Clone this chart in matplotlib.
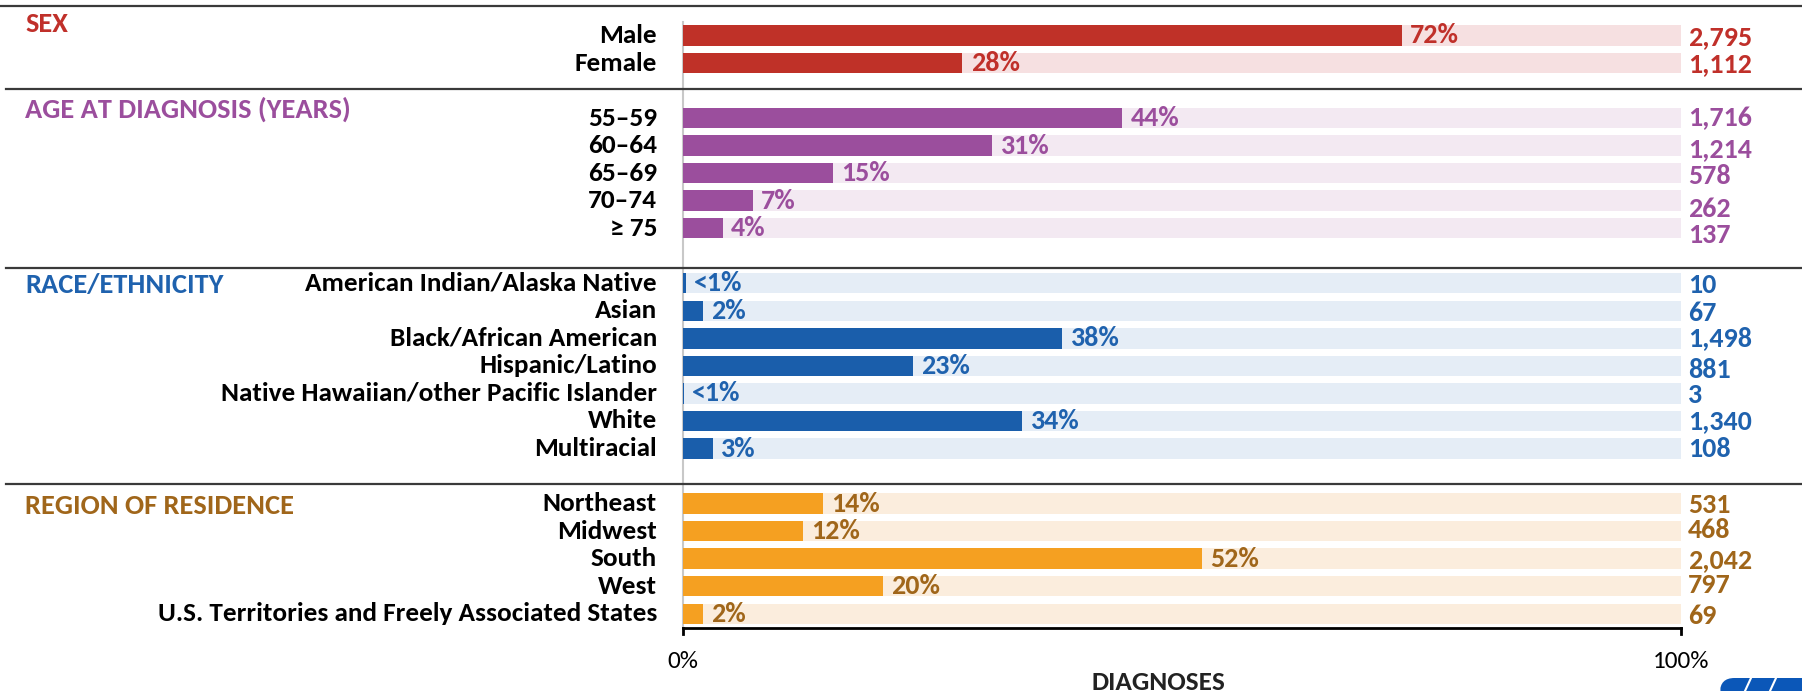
import matplotlib
matplotlib.use("Agg")
import matplotlib.pyplot as plt
from matplotlib import font_manager
from matplotlib.transforms import blended_transform_factory
from matplotlib.patches import FancyBboxPatch
from matplotlib.lines import Line2D

# ---------------- data ----------------
group_titles = ["SEX", "AGE AT DIAGNOSIS (YEARS)", "RACE/ETHNICITY", "REGION OF RESIDENCE"]

sex_labels = ["Male", "Female"]
sex_pct = [72, 28]
sex_pct_text = ["72%", "28%"]
sex_counts = ["2,795", "1,112"]

age_labels = ["55\u201359", "60\u201364", "65\u201369", "70\u201374", "\u2265 75"]
age_pct = [44, 31, 15, 7, 4]
age_pct_text = ["44%", "31%", "15%", "7%", "4%"]
age_counts = ["1,716", "1,214", "578", "262", "137"]

race_labels = ["American Indian/Alaska Native", "Asian", "Black/African American",
               "Hispanic/Latino", "Native Hawaiian/other Pacific Islander", "White", "Multiracial"]
race_pct = [0.3, 2, 38, 23, 0.1, 34, 3]
race_pct_text = ["<1%", "2%", "38%", "23%", "<1%", "34%", "3%"]
race_counts = ["10", "67", "1,498", "881", "3", "1,340", "108"]

region_labels = ["Northeast", "Midwest", "South", "West",
                 "U.S. Territories and Freely Associated States"]
region_pct = [14, 12, 52, 20, 2]
region_pct_text = ["14%", "12%", "52%", "20%", "2%"]
region_counts = ["531", "468", "2,042", "797", "69"]

x_tick_labels = ["0%", "100%"]
x_title = "DIAGNOSES"

# ---------------- style ----------------
bar_colors = ["#BF3128", "#9B4E9D", "#1A5EAB", "#F5A021"]
bg_colors = ["#F6E0E1", "#F3E9F2", "#E5EDF6", "#FBEDDD"]
text_colors = ["#C0302A", "#9B4E9D", "#1F62AE", "#A0661A"]

available = set(f.name for f in font_manager.fontManager.ttflist)
prefs = ["Carlito", "Calibri", "Liberation Sans Narrow", "Lato", "DejaVu Sans"]
chosen = next(p for p in prefs if p in available)
plt.rcParams["font.family"] = [chosen, "DejaVu Sans"]
FS = {"Carlito": 17.5, "Calibri": 17.5, "Liberation Sans Narrow": 16, "Lato": 15.5}.get(chosen, 14)
LAB_FS = FS * 1.12
NUM_FS = FS * 1.15
TITLE_FS = FS * 1.17
TICK_FS = FS * 1.04
AXT_FS = FS * 1.12

W, H = 1802, 691
fig = plt.figure(figsize=(W / 100, H / 100), dpi=100)
ax_left, ax_right = 683 / W, 1681 / W
ax_top_px, ax_bot_px = 6, 627.5
ax = fig.add_axes([ax_left, 1 - ax_bot_px / H, ax_right - ax_left, (ax_bot_px - ax_top_px) / H])
ax.set_xlim(0, 100)
ax.set_ylim(21.5, -1.07)
ax.axis("off")

groups = [
    (sex_labels, sex_pct, sex_pct_text, sex_counts),
    (age_labels, age_pct, age_pct_text, age_counts),
    (race_labels, race_pct, race_pct_text, race_counts),
    (region_labels, region_pct, region_pct_text, region_counts),
]
title_offsets = [-0.4, -0.32, 0.08, 0.08]
count_nudges = [
    [0.05, 0.05],
    [0.0, 0.12, 0.12, 0.29, 0.25],
    [0.08, 0.08, 0.0, 0.15, 0.04, 0.0, 0.0],
    [0.04, -0.05, 0.04, -0.05, 0.1],
]

fig_x = blended_transform_factory(fig.transFigure, ax.transData)
bar_h = 0.74

start = 0
for gi, (labels, pct, ptxt, counts) in enumerate(groups):
    ys = [start + i for i in range(len(labels))]
    ax.barh(ys, [100] * len(ys), height=bar_h, color=bg_colors[gi], zorder=1)
    ax.barh(ys, pct, height=bar_h, color=bar_colors[gi], zorder=2)
    for y, p, t, c, lab, nd in zip(ys, pct, ptxt, counts, labels, count_nudges[gi]):
        ax.annotate(t, (p, y), xytext=(6, 0), textcoords="offset points",
                    ha="left", va="center", fontsize=NUM_FS, fontweight="bold",
                    color=text_colors[gi], zorder=3)
        ax.annotate(c, (100, y + nd), xytext=(5, 0), textcoords="offset points",
                    ha="left", va="center", fontsize=NUM_FS, fontweight="bold",
                    color=text_colors[gi], annotation_clip=False)
        ax.text(657 / W, y, lab, transform=fig_x, ha="right", va="center",
                fontsize=LAB_FS, fontweight="bold", color="black")
    ax.text(25 / W, start + title_offsets[gi], group_titles[gi], transform=fig_x,
            ha="left", va="center", fontsize=TITLE_FS, fontweight="bold", color=text_colors[gi])
    start += len(labels) + 1

# separator lines
for yy, x0 in [(-1.07, 0.0), (1.95, 6 / W), (8.45, 6 / W), (16.3, 6 / W)]:
    fig.add_artist(Line2D([x0, 1.0], [yy, yy], transform=fig_x, color="#3A3A3A",
                          lw=1.6, zorder=5))

# vertical axis line at 0
ax.plot([0, 0], [-0.5, 21.5], color="#C8C8C8", lw=1.5, zorder=0.5, clip_on=False)
# bottom axis with end ticks
ax.plot([0, 100], [21.5, 21.5], color="black", lw=2, clip_on=False, zorder=4)
for xv in (0, 100):
    ax.plot([xv, xv], [21.5, 21.72], color="black", lw=2, clip_on=False, zorder=4)

# tick labels and axis title
trans_xfig = blended_transform_factory(ax.transData, fig.transFigure)
ax.text(0, 1 - 661 / H, x_tick_labels[0], transform=trans_xfig, ha="center", va="center",
        fontsize=TICK_FS, color="black")
ax.text(100, 1 - 661 / H, x_tick_labels[1], transform=trans_xfig, ha="center", va="center",
        fontsize=TICK_FS, color="black")
ax.text(47.6, 1 - 682 / H, x_title, transform=trans_xfig, ha="center", va="center",
        fontsize=AXT_FS, fontweight="bold", color="#222222")

# partial logo at bottom right
logo = FancyBboxPatch((1720 / W, -10 / H), 100 / W, 23 / H,
                      boxstyle="round,pad=0,rounding_size=0.008",
                      transform=fig.transFigure, facecolor="#0B57B8", edgecolor="none",
                      clip_on=False, zorder=6, mutation_aspect=W / H)
fig.add_artist(logo)
for x0 in (1745, 1770):
    fig.add_artist(Line2D([x0 / W, (x0 + 6) / W], [0, 13 / H], transform=fig.transFigure,
                          color="white", lw=1.5, zorder=7))

fig.savefig("out.png", dpi=100)
